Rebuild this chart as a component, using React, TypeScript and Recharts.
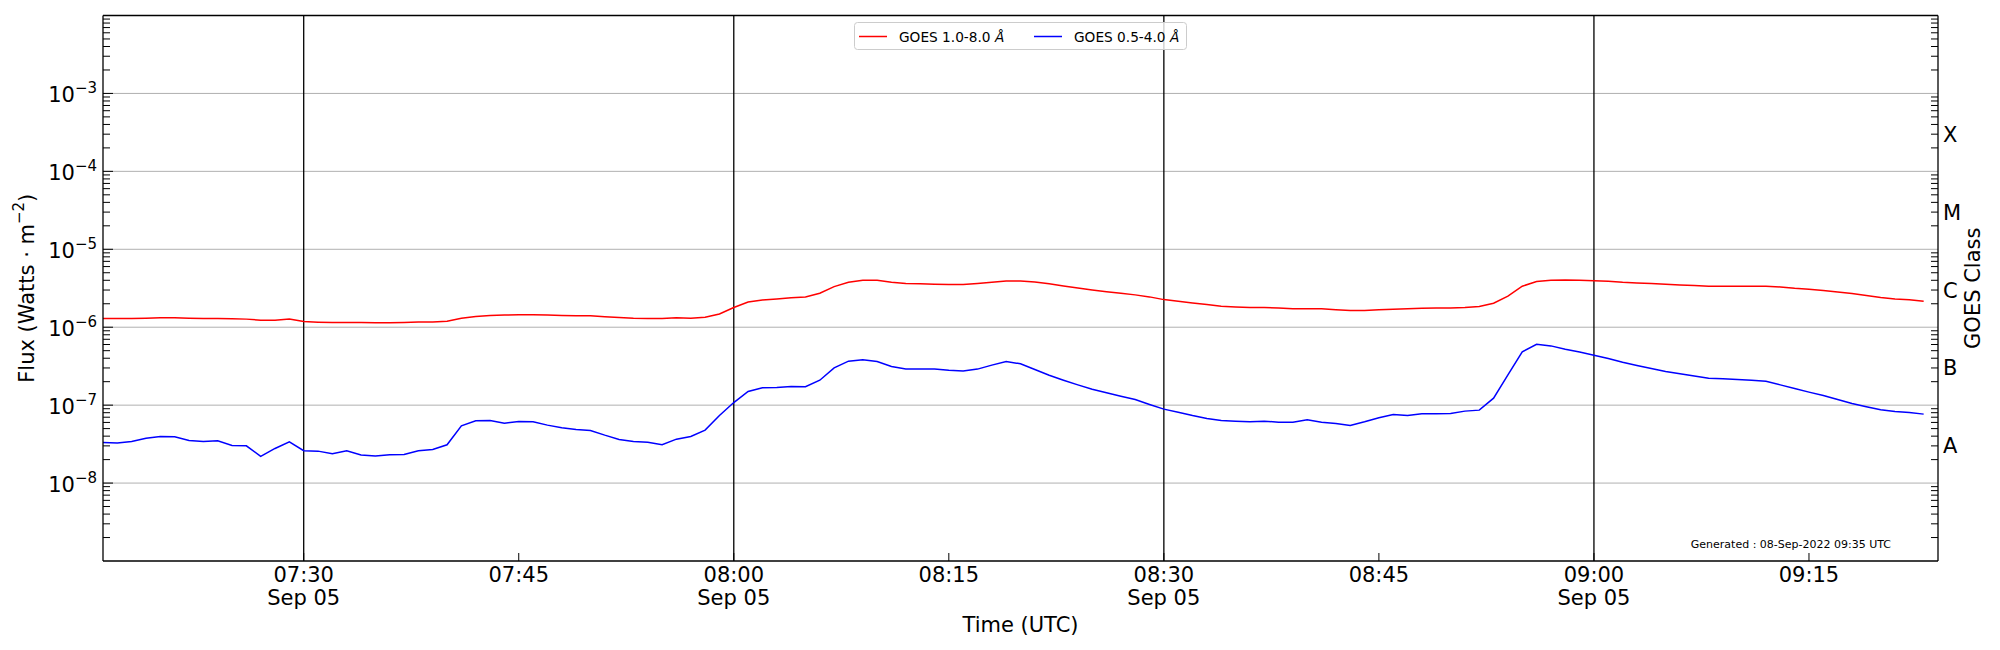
import { Legend, Line, LineChart, ReferenceLine, XAxis, YAxis } from "recharts";

const FONT = "DejaVu Sans";

// one-minute GOES samples, 07:16 .. 09:23 UTC
const START_MIN = 7 * 60 + 16;
const END_MIN = 9 * 60 + 24;
const DATE_LABEL = "Sep 05";
const GENERATED = "Generated : 08-Sep-2022 09:35 UTC";

// 1.0-8.0 Å channel (W/m^2)
const XRSB = [
  1.29e-6, 1.29e-6, 1.29e-6, 1.30e-6, 1.32e-6, 1.32e-6, 1.30e-6, 1.29e-6, 1.29e-6, 1.28e-6,
  1.27e-6, 1.23e-6, 1.23e-6, 1.27e-6, 1.18e-6, 1.16e-6, 1.15e-6, 1.15e-6, 1.15e-6, 1.14e-6,
  1.14e-6, 1.15e-6, 1.17e-6, 1.17e-6, 1.19e-6, 1.30e-6, 1.37e-6, 1.41e-6, 1.43e-6, 1.44e-6,
  1.44e-6, 1.43e-6, 1.41e-6, 1.40e-6, 1.40e-6, 1.36e-6, 1.33e-6, 1.30e-6, 1.29e-6, 1.29e-6,
  1.32e-6, 1.30e-6, 1.34e-6, 1.48e-6, 1.79e-6, 2.11e-6, 2.24e-6, 2.31e-6, 2.38e-6, 2.45e-6,
  2.73e-6, 3.32e-6, 3.77e-6, 4.01e-6, 4.01e-6, 3.77e-6, 3.63e-6, 3.60e-6, 3.56e-6, 3.52e-6,
  3.52e-6, 3.63e-6, 3.77e-6, 3.93e-6, 3.93e-6, 3.81e-6, 3.60e-6, 3.39e-6, 3.19e-6, 3.01e-6,
  2.86e-6, 2.73e-6, 2.60e-6, 2.45e-6, 2.26e-6, 2.16e-6, 2.05e-6, 1.95e-6, 1.86e-6, 1.82e-6,
  1.79e-6, 1.79e-6, 1.77e-6, 1.73e-6, 1.73e-6, 1.72e-6, 1.68e-6, 1.64e-6, 1.64e-6, 1.67e-6,
  1.70e-6, 1.73e-6, 1.75e-6, 1.77e-6, 1.77e-6, 1.79e-6, 1.84e-6, 2.03e-6, 2.50e-6, 3.36e-6,
  3.85e-6, 4.01e-6, 4.05e-6, 4.01e-6, 3.96e-6, 3.89e-6, 3.77e-6, 3.70e-6, 3.63e-6, 3.56e-6,
  3.49e-6, 3.42e-6, 3.36e-6, 3.36e-6, 3.36e-6, 3.36e-6, 3.36e-6, 3.29e-6, 3.16e-6, 3.07e-6,
  2.95e-6, 2.84e-6, 2.70e-6, 2.55e-6, 2.40e-6, 2.30e-6, 2.25e-6, 2.16e-6,
];

// 0.5-4.0 Å channel (W/m^2)
const XRSA = [
  3.32e-8, 3.26e-8, 3.42e-8, 3.77e-8, 3.96e-8, 3.93e-8, 3.52e-8, 3.42e-8, 3.49e-8, 3.04e-8,
  3.01e-8, 2.20e-8, 2.78e-8, 3.39e-8, 2.60e-8, 2.57e-8, 2.38e-8, 2.60e-8, 2.29e-8, 2.22e-8,
  2.31e-8, 2.33e-8, 2.60e-8, 2.70e-8, 3.10e-8, 5.43e-8, 6.30e-8, 6.36e-8, 5.87e-8, 6.17e-8,
  6.11e-8, 5.54e-8, 5.12e-8, 4.88e-8, 4.73e-8, 4.12e-8, 3.63e-8, 3.42e-8, 3.35e-8, 3.10e-8,
  3.66e-8, 3.96e-8, 4.78e-8, 7.37e-8, 1.08e-7, 1.50e-7, 1.67e-7, 1.68e-7, 1.73e-7, 1.72e-7,
  2.09e-7, 3.01e-7, 3.67e-7, 3.81e-7, 3.63e-7, 3.13e-7, 2.92e-7, 2.92e-7, 2.90e-7, 2.81e-7,
  2.75e-7, 2.90e-7, 3.26e-7, 3.63e-7, 3.39e-7, 2.87e-7, 2.42e-7, 2.09e-7, 1.82e-7, 1.60e-7,
  1.44e-7, 1.30e-7, 1.18e-7, 1.02e-7, 8.89e-8, 8.13e-8, 7.37e-8, 6.75e-8, 6.35e-8, 6.23e-8,
  6.11e-8, 6.23e-8, 6.05e-8, 6.05e-8, 6.48e-8, 6.05e-8, 5.82e-8, 5.48e-8, 6.11e-8, 6.89e-8,
  7.59e-8, 7.37e-8, 7.74e-8, 7.74e-8, 7.82e-8, 8.38e-8, 8.63e-8, 1.23e-7, 2.45e-7, 4.83e-7,
  6.05e-7, 5.76e-7, 5.22e-7, 4.80e-7, 4.38e-7, 3.97e-7, 3.56e-7, 3.23e-7, 2.95e-7, 2.70e-7,
  2.52e-7, 2.36e-7, 2.22e-7, 2.18e-7, 2.13e-7, 2.09e-7, 2.03e-7, 1.82e-7, 1.64e-7, 1.47e-7,
  1.33e-7, 1.18e-7, 1.05e-7, 9.52e-8, 8.71e-8, 8.29e-8, 8.05e-8, 7.67e-8,
];

const TIME_TICKS = [450, 465, 480, 495, 510, 525, 540, 555];
const HALF_HOUR_LINES = [450, 480, 510, 540];
const DECADES = [1e-8, 1e-7, 1e-6, 1e-5, 1e-4, 1e-3];
const CLASS_LABELS = ["A", "B", "C", "M", "X"];
const CLASS_LEVELS = [3e-8, 3e-7, 3e-6, 3e-5, 3e-4];
const Y_MIN = 1e-9;
const Y_MAX = 1e-2;

const MINOR: number[] = [];
for (let e = -9; e < -2; e++) for (let k = 2; k <= 9; k++) MINOR.push(k * Math.pow(10, e));
const LEFT_TICKS = [...DECADES, ...MINOR].sort((a, b) => a - b);

const SERIES = [
  { key: "xrsb", name: "GOES 1.0-8.0 ", color: "#ff0000" },
  { key: "xrsa", name: "GOES 0.5-4.0 ", color: "#0000ff" },
];

const rows = XRSB.map((v, i) => ({ t: START_MIN + i, xrsb: v, xrsa: XRSA[i] }));

const pad = (n: number) => String(n).padStart(2, "0");
const near = (a: number, b: number) => Math.abs(a - b) < 1e-6 * b;

function TimeTick({ x, y, payload }: any) {
  const m = payload.value as number;
  const half = m % 30 === 0;
  return (
    <g>
      <line x1={x} x2={x} y1={y} y2={y - 8} stroke="#000" strokeWidth={1} />
      <text x={x} y={y + 21} textAnchor="middle" fontSize={21} fontFamily={FONT} fill="#000">
        {`${pad(Math.floor(m / 60))}:${pad(m % 60)}`}
      </text>
      {half && (
        <text x={x} y={y + 44} textAnchor="middle" fontSize={21} fontFamily={FONT} fill="#000">
          {DATE_LABEL}
        </text>
      )}
    </g>
  );
}

function FluxTick({ x, y, payload }: any) {
  const v = payload.value as number;
  const exp = Math.round(Math.log10(v));
  const major = near(v, Math.pow(10, exp));
  return (
    <g>
      <line x1={x} x2={x + (major ? 10 : 7)} y1={y} y2={y} stroke="#000" strokeWidth={1} />
      {major && (
        <text x={x - 6} y={y + 9} textAnchor="end" fontSize={21} fontFamily={FONT} fill="#000">
          10
          <tspan fontSize={15} dy={-9}>{`\u2212${Math.abs(exp)}`}</tspan>
        </text>
      )}
    </g>
  );
}

function ClassTick({ x, y, payload }: any) {
  const v = payload.value as number;
  const idx = CLASS_LEVELS.findIndex((c) => near(v, c));
  return (
    <g>
      <line x1={x} x2={x - 7} y1={y} y2={y} stroke="#000" strokeWidth={1} />
      {idx >= 0 && (
        <text x={x + 5} y={y + 7.5} fontSize={21} fontFamily={FONT} fill="#000">
          {CLASS_LABELS[idx]}
        </text>
      )}
    </g>
  );
}

function FluxLabel(props: any) {
  const { x, y, height } = props.viewBox;
  const cx = x + 27;
  const cy = y + height / 2;
  return (
    <text
      x={cx}
      y={cy}
      transform={`rotate(-90 ${cx} ${cy})`}
      textAnchor="middle"
      dominantBaseline="central"
      fontSize={21}
      fontFamily={FONT}
      fill="#000"
    >
      Flux (Watts · m
      <tspan fontSize={15} dy={-8}>{"\u22122"}</tspan>
      <tspan dy={8}>)</tspan>
    </text>
  );
}

function ClassLabel(props: any) {
  const { x, y, height } = props.viewBox;
  const cx = x + 35;
  const cy = y + height / 2;
  return (
    <text
      x={cx}
      y={cy}
      transform={`rotate(-90 ${cx} ${cy})`}
      textAnchor="middle"
      dominantBaseline="central"
      fontSize={21}
      fontFamily={FONT}
      fill="#000"
    >
      GOES Class
    </text>
  );
}

function TimeLabel(props: any) {
  const { x, y, width } = props.viewBox;
  return (
    <g fontFamily={FONT} fill="#000">
      <text x={x + width / 2} y={y + 71} textAnchor="middle" fontSize={21}>
        Time (UTC)
      </text>
      <text x={x + width - 47} y={y - 13} textAnchor="end" fontSize={11}>
        {GENERATED}
      </text>
    </g>
  );
}

function GoesLegend() {
  return (
    <svg width={334} height={29} style={{ display: "block", overflow: "visible" }}>
      <rect x={0.5} y={0.5} width={332} height={27} rx={3} fill="rgba(255,255,255,0.8)" stroke="#cccccc" />
      {SERIES.map((s, i) => {
        const ox = i * 175;
        return (
          <g key={s.key}>
            <line x1={ox + 5} x2={ox + 33} y1={14.5} y2={14.5} stroke={s.color} strokeWidth={1.5} />
            <text x={ox + 45} y={19.5} fontSize={13.7} fontFamily={FONT} fill="#000">
              {s.name}
              <tspan fontStyle="italic">Å</tspan>
            </text>
          </g>
        );
      })}
    </svg>
  );
}

export default function App() {
  return (
    <div style={{ position: "absolute", left: 0, top: 0, background: "#fff" }}>
      <LineChart width={2000} height={650} data={rows} margin={{ top: 15.5, right: 0, bottom: 0, left: 0 }}>
        <XAxis
          dataKey="t"
          type="number"
          domain={[START_MIN, END_MIN]}
          allowDataOverflow
          ticks={TIME_TICKS}
          interval={0}
          tickSize={0}
          tickMargin={0}
          tickLine={false}
          tick={(p: any) => <TimeTick {...p} />}
          axisLine={{ stroke: "#000", strokeWidth: 1.3 }}
          height={89}
          label={TimeLabel}
        />
        <YAxis
          yAxisId="left"
          scale="log"
          type="number"
          domain={[Y_MIN, Y_MAX]}
          allowDataOverflow
          ticks={LEFT_TICKS}
          interval={0}
          tickSize={0}
          tickMargin={0}
          tickLine={false}
          tick={(p: any) => <FluxTick {...p} />}
          axisLine={{ stroke: "#000", strokeWidth: 1.3 }}
          width={103}
          label={FluxLabel}
        />
        <YAxis
          yAxisId="right"
          orientation="right"
          scale="log"
          type="number"
          domain={[Y_MIN, Y_MAX]}
          allowDataOverflow
          ticks={MINOR}
          interval={0}
          tickSize={0}
          tickMargin={0}
          tickLine={false}
          tick={(p: any) => <ClassTick {...p} />}
          axisLine={{ stroke: "#000", strokeWidth: 1.3 }}
          width={62}
          label={ClassLabel}
        />
        {DECADES.map((d) => (
          <ReferenceLine key={d} yAxisId="left" y={d} stroke="#b0b0b0" strokeWidth={1} />
        ))}
        {HALF_HOUR_LINES.map((t) => (
          <ReferenceLine key={t} yAxisId="left" x={t} stroke="#000" strokeWidth={1.3} />
        ))}
        <ReferenceLine yAxisId="left" y={Y_MAX} stroke="#000" strokeWidth={1.3} ifOverflow="visible" />
        {SERIES.map((s) => (
          <Line
            key={s.key}
            yAxisId="left"
            type="linear"
            dataKey={s.key}
            name={s.name}
            stroke={s.color}
            strokeWidth={1.5}
            dot={false}
            activeDot={false}
            isAnimationActive={false}
          />
        ))}
        <Legend
          layout="horizontal"
          verticalAlign="middle"
          align="center"
          wrapperStyle={{ top: 22, left: 854, width: 334, height: 29 }}
          content={() => <GoesLegend />}
        />
      </LineChart>
    </div>
  );
}
